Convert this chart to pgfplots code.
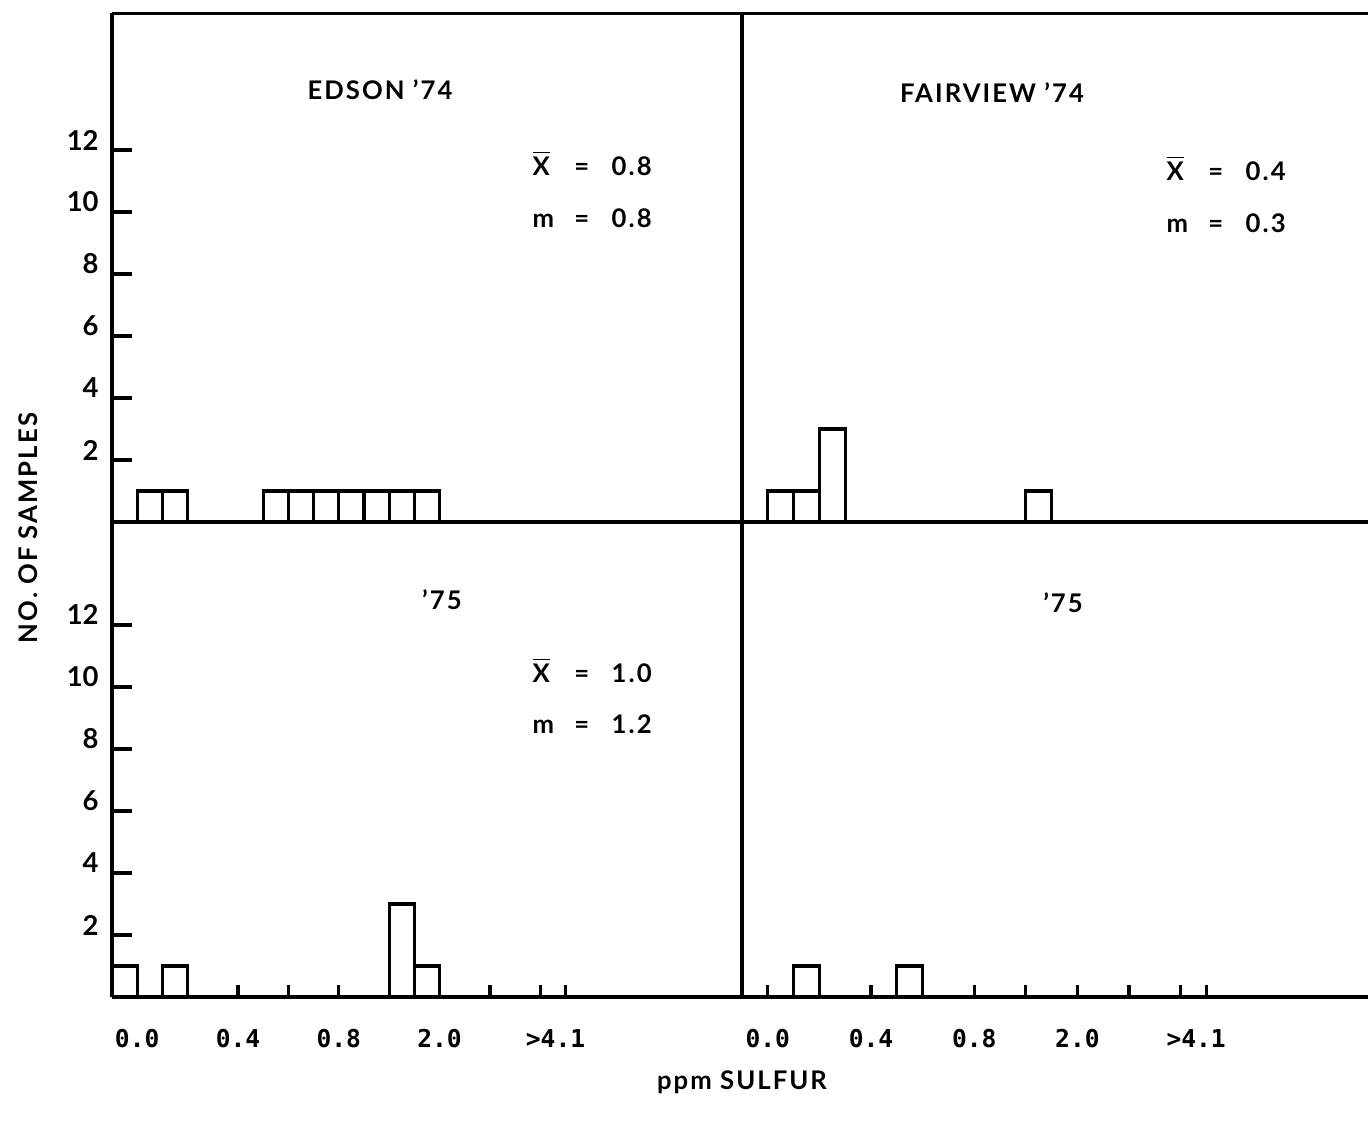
\documentclass[border=0pt]{standalone}
\usepackage{fontspec}
\setmainfont{Lato}[LetterSpace=8]
\newfontfamily\ticksans{Lato}
\newfontfamily\ticksmono{DejaVu Sans Mono}
\usepackage{pgfplots}
\pgfplotsset{compat=1.18}

% 1 px of the reference = 0.01 cm
\pgfplotsset{
  panel/.style={
    scale only axis,
    axis x line*=bottom, axis y line*=left,
    axis line style={line width=0.9pt},
    xmin=0, ymin=0,
    ybar, bar width=1, bar shift=0pt,
    xtick=\empty, ytick=\empty,
    tick align=inside,
    major tick length=0.2cm,
    tick style={line width=0.9pt, black},
    anchor=south west,
  },
  leftpanel/.style={
    ytick={2,4,...,12},
    /pgf/number format/assume math mode=true,
    yticklabel style={font=\ticksans\bfseries\fontsize{7.8}{8}\selectfont, xshift=-0.01cm, yshift=0.1cm},
  },
  bottompanel/.style={
    xtick={1,5,9,13,17.6},
    xticklabels={0.0,0.4,0.8,2.0,>4.1},
    xtick style={draw=none},
    xticklabel style={font=\ticksmono\bfseries\fontsize{7}{7}\selectfont, yshift=-0.2cm},
    extra x ticks={1,3,5,7,9,11,13,15,17,18},
    extra x tick labels={},
    extra x tick style={major tick length=0.12cm, xtick style={draw=black}},
  },
}
\newcommand{\stat}[2]{\makebox[0.30cm][l]{#1}\makebox[0.38cm][c]{=}\hspace{0.11cm}#2}
\newcommand{\xbar}{$\overline{\hbox{X}}$}

\begin{document}
\begin{tikzpicture}
\tikzset{lbl/.style={font=\bfseries\fontsize{7.3}{8}\selectfont, inner sep=0pt}}

% EDSON '74
\begin{axis}[panel, leftpanel, at={(1.12cm,6.03cm)}, width=6.30cm, height=5.09cm,
  xmax=25, ymax=16.42]
\addplot[draw=black, line width=0.9pt, fill=none] coordinates {
  (1.5,1) (2.5,1) (6.5,1) (7.5,1) (8.5,1) (9.5,1) (10.5,1) (11.5,1) (12.5,1)
};
\draw[line width=0.9pt] (rel axis cs:0,1) -- (rel axis cs:1,1);
\end{axis}

% FAIRVIEW '74
\begin{axis}[panel, at={(7.42cm,6.03cm)}, width=6.26cm, height=5.09cm,
  xmax=24.26, ymax=16.42]
\addplot[draw=black, line width=0.9pt, fill=none] coordinates {
  (1.5,1) (2.5,1) (3.5,3) (11.5,1)
};
\draw[line width=0.9pt] (rel axis cs:0,1) -- (rel axis cs:1,1);
\end{axis}

% EDSON '75
\begin{axis}[panel, leftpanel, bottompanel, at={(1.12cm,1.28cm)}, width=6.30cm, height=4.75cm,
  xmax=25, ymax=15.32]
\addplot[draw=black, line width=0.9pt, fill=none] coordinates {
  (0.5,1) (2.5,1) (11.5,3) (12.5,1)
};
\end{axis}

% FAIRVIEW '75
\begin{axis}[panel, bottompanel, at={(7.42cm,1.28cm)}, width=6.26cm, height=4.75cm,
  xmax=24.26, ymax=15.32]
\addplot[draw=black, line width=0.9pt, fill=none] coordinates {
  (2.5,1) (6.5,1)
};
\end{axis}

% panel titles and statistics
\node[lbl] at (3.80,10.35) {EDSON '74};
\node[lbl] at (9.92,10.32) {FAIRVIEW '74};
\node[lbl] at (4.42,5.25) {'75};
\node[lbl] at (10.63,5.22) {'75};

\node[lbl, anchor=west] at (5.32,9.62) {\stat{\xbar}{0.8}};
\node[lbl, anchor=west] at (5.32,9.07) {\stat{m}{0.8}};
\node[lbl, anchor=west] at (11.66,9.57) {\stat{\xbar}{0.4}};
\node[lbl, anchor=west] at (11.66,9.02) {\stat{m}{0.3}};
\node[lbl, anchor=west] at (5.32,4.55) {\stat{\xbar}{1.0}};
\node[lbl, anchor=west] at (5.32,4.01) {\stat{m}{1.2}};

% axis titles
\node[lbl, rotate=90] at (0.28,5.97) {NO. OF SAMPLES};
\node[lbl] at (7.42,0.43) {ppm SULFUR};

\pgfresetboundingbox
\path[use as bounding box] (0,0) rectangle (13.68,11.25);
\end{tikzpicture}
\end{document}
